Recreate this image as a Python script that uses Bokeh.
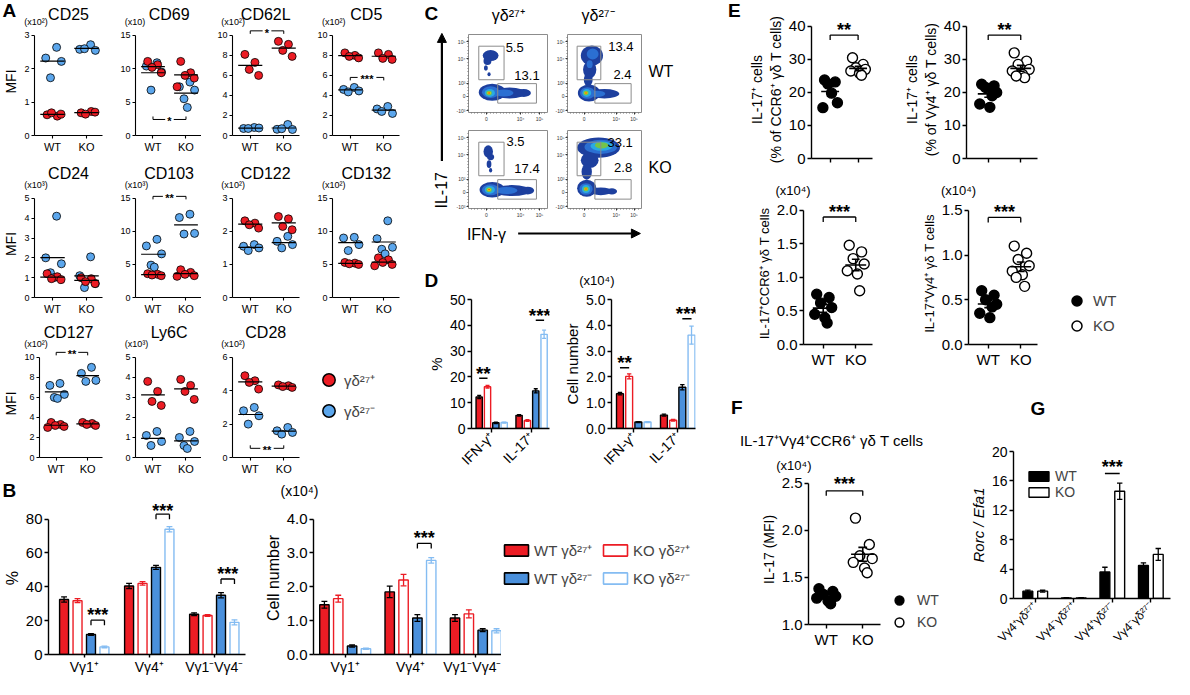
import numpy as np
from bokeh.plotting import figure
from bokeh.layouts import row, column
from bokeh.models import (Range1d, FixedTicker, Legend, LegendItem,
                          ColumnDataSource, Arrow, NormalHead, NumeralTickFormatter)
from bokeh.core.properties import value
from bokeh.embed import file_html
from bokeh.resources import INLINE

FONT = "Liberation Sans"
RED = "#ec1c24"
BLUE = "#4a90dc"
LBLUE = "#84bcf2"
DOTBLUE = "#5ba6ec"

# ===================== DATA =====================
# ---- Panel A (MFI) ----
A_TITLES = ["CD25", "CD69", "CD62L", "CD5", "CD24", "CD103", "CD122", "CD132", "CD127", "Ly6C", "CD28"]
A_MULT = ["(x10²)", "(x10)", "(x10²)", "(x10²)", "(x10³)", "(x10³)", "(x10²)", "(x10²)", "(x10²)", "(x10³)", "(x10²)"]
A_YMAX = [3, 15, 10, 10, 5, 15, 3, 15, 10, 5, 6]
A_YSTEP = [1, 5, 2, 2, 1, 5, 1, 5, 2, 1, 2]
A_WT_POS = [[0.62, 0.58, 0.68, 0.64], [11.1, 10.6, 10.2, 9.4], [8.1, 7.3, 6.6, 6.0],
            [8.25, 8.0, 7.9, 7.75], [1.2, 1.05, 0.95, 0.9], [3.6, 3.5, 3.4, 3.3],
            [2.32, 2.25, 2.2, 2.1], [5.3, 5.2, 5.1, 5.0], [3.5, 3.3, 3.2, 3.1, 3.0],
            [3.8, 3.3, 2.8, 2.6], [4.9, 4.6, 4.5, 4.1]]
A_WT_NEG = [[2.64, 2.32, 2.22, 1.73], [10.9, 10.4, 9.5, 6.8], [0.8, 0.7, 0.75, 0.7],
            [4.8, 4.6, 4.45, 4.35], [4.1, 2.0, 1.7, 1.25, 1.0], [8.8, 7.8, 6.6, 4.9, 4.6],
            [1.6, 1.55, 1.5, 1.42], [9.1, 9.0, 8.0, 7.1], [7.4, 7.2, 6.3, 6.0, 5.9],
            [1.3, 1.1, 0.8, 0.6], [3.0, 2.8, 2.5, 2.0]]
A_KO_POS = [[0.68, 0.72, 0.64, 0.7], [11.1, 9.4, 9.0, 8.6, 7.3], [9.4, 9.1, 8.5, 7.9],
            [8.25, 8.1, 7.7, 7.6], [1.0, 0.95, 0.8, 0.7], [4.2, 3.8, 3.5, 3.3, 3.2],
            [2.45, 2.38, 2.15, 2.05], [6.0, 5.7, 5.3, 5.0, 4.8], [3.5, 3.4, 3.3, 3.2],
            [3.9, 3.6, 3.3, 2.9], [4.35, 4.3, 4.25, 4.2]]
A_KO_NEG = [[2.72, 2.58, 2.55, 2.6], [8.0, 7.3, 6.8, 5.5, 4.2], [1.1, 0.62, 0.6, 0.68],
            [2.9, 2.65, 2.2, 2.4], [2.05, 1.1, 0.7, 0.5], [12.6, 12.1, 9.7, 9.6],
            [1.85, 1.7, 1.6, 1.5], [11.6, 8.9, 7.6, 7.3, 6.6], [9.0, 8.4, 7.7, 7.6],
            [1.3, 1.0, 0.8, 0.6, 0.45], [1.8, 1.6, 1.5, 1.4]]
A_SIG_TEXT = ["", "*", "*", "***", "", "**", "", "", "**", "", "**"]
A_SIG_LEVEL = [0, 2.4, 10.45, 5.8, 0, 15.3, 0, 0, 10.5, 0, 0.55]
A_SIG_UP = [False, True, False, False, False, False, False, False, False, False, True]
A_LEGEND = ["γδ²⁷⁺", "γδ²⁷⁻"]

# ---- Panel B ----
B_GROUPS = ["Vγ1⁺", "Vγ4⁺", "Vγ1⁻Vγ4⁻"]
SERIES = ["WT γδ²⁷⁺", "KO γδ²⁷⁺", "WT γδ²⁷⁻", "KO γδ²⁷⁻"]
B_PCT_WT_POS = [32.5, 40.5, 23.8]; B_PCT_WT_POS_E = [1.5, 1.5, 0.8]
B_PCT_KO_POS = [31.8, 42.0, 23.0]; B_PCT_KO_POS_E = [1.2, 1.0, 0.5]
B_PCT_WT_NEG = [11.8, 51.5, 35.0]; B_PCT_WT_NEG_E = [0.5, 1.2, 1.5]
B_PCT_KO_NEG = [4.5, 74.0, 19.0]; B_PCT_KO_NEG_E = [0.5, 1.6, 1.5]
B_NUM_WT_POS = [1.47, 1.85, 1.08]; B_NUM_WT_POS_E = [0.1, 0.17, 0.1]
B_NUM_KO_POS = [1.65, 2.2, 1.2]; B_NUM_KO_POS_E = [0.1, 0.17, 0.12]
B_NUM_WT_NEG = [0.25, 1.08, 0.72]; B_NUM_WT_NEG_E = [0.03, 0.1, 0.04]
B_NUM_KO_NEG = [0.17, 2.78, 0.7]; B_NUM_KO_NEG_E = [0.02, 0.08, 0.06]
B_PCT_SIG_GROUP = [0, 1, 2]; B_PCT_SIG_LEVEL = [20.3, 82.9, 44.6]; B_PCT_SIG_TEXT_Y = [25.5, 87.3, 50.0]
B_NUM_SIG_GROUP = [1]; B_NUM_SIG_LEVEL = [3.28]; B_NUM_SIG_TEXT_Y = [3.55]

# ---- Panel C (flow) ----
C_COLS = ["γδ²⁷⁺", "γδ²⁷⁻"]
C_ROWS = ["WT", "KO"]
C_UPPER = [["5.5", "13.4"], ["3.5", "33.1"]]
C_LOWER = [["13.1", "2.4"], ["17.4", "2.8"]]
FLOW_XTICKS = [22.5, 66, 90]; FLOW_XLABELS = ["0", "10⁴", "10⁵"]
FLOW_YTICKS = [2.5, 21, 37.5, 69, 91]; FLOW_YLABELS = ["-10³", "0", "10³", "10⁴", "10⁵"]
DENS = ["#1d3f9e", "#2b6fd2", "#2aaae2", "#74c44a", "#f2e400", "#e8141c"]
BLOB_WT_POS = [(28, 73, 20, 14, 0), (24, 66, 10, 10, 0), (22, 57, 5, 7, 0), (26, 49, 4, 5, 0),
               (30, 26, 34, 22, 0), (52, 25, 42, 14, 0), (70, 25, 18, 10, 0), (28, 26, 22, 15, 1),
               (45, 25, 24, 9, 1), (27, 25, 13, 10, 2), (26, 25, 7, 6, 3), (26, 25, 4, 3.5, 4), (26, 25, 2, 2, 5)]
BLOB_WT_NEG = [(33, 73, 30, 26, 0), (30, 55, 18, 22, 0), (28, 42, 12, 16, 0), (34, 75, 16, 14, 1),
               (30, 62, 8, 10, 1), (29, 25, 30, 22, 0), (50, 24, 40, 12, 0), (27, 25, 20, 15, 1),
               (40, 24, 22, 8, 1), (26, 25, 12, 10, 2), (25, 25, 7, 6, 3), (25, 25, 4, 3.5, 4), (25, 25, 2, 2, 5)]
BLOB_KO_POS = [(25, 73, 12, 16, 0), (28, 66, 9, 8, 0), (26, 57, 6, 10, 0), (28, 49, 4, 6, 0),
               (30, 24, 32, 20, 0), (55, 23, 48, 14, 0), (75, 23, 16, 10, 0), (28, 24, 22, 14, 1),
               (48, 23, 28, 9, 1), (27, 24, 13, 10, 2), (26, 24, 7, 6, 3), (26, 24, 4, 3.5, 4), (26, 24, 2, 2, 5)]
BLOB_KO_NEG = [(42, 78, 58, 26, 0), (30, 62, 24, 20, 0), (26, 47, 14, 20, 0), (45, 79, 44, 18, 1),
               (46, 80, 30, 12, 2), (46, 81, 18, 8, 3), (26, 26, 26, 22, 0), (45, 22, 30, 10, 0),
               (60, 22, 14, 8, 0), (25, 25, 18, 15, 1), (25, 25, 11, 10, 2), (25, 25, 7, 6, 3),
               (25, 25, 4, 3.5, 4), (25, 25, 2, 2, 5)]
FLOW_BLOBS = [[BLOB_WT_POS, BLOB_WT_NEG], [BLOB_KO_POS, BLOB_KO_NEG]]
GATE_UP = (13, 45, 42, 85)
GATE_LO = (37, 86, 12, 37)
NUM_UP_XY = [[(47, 83), (55, 84)], [(48, 86), (54, 85)]]
NUM_LO_XY = [[(58, 48), (62, 49)], [(58, 51), (63, 52)]]

# ---- Panel D ----
D_GROUPS = ["IFN-γ⁺", "IL-17⁺"]
D_PCT_WT_POS = [12.2, 5.1]; D_PCT_WT_POS_E = [0.6, 0.3]
D_PCT_KO_POS = [16.2, 3.1]; D_PCT_KO_POS_E = [0.5, 0.3]
D_PCT_WT_NEG = [2.2, 14.6]; D_PCT_WT_NEG_E = [0.3, 0.8]
D_PCT_KO_NEG = [2.3, 36.5]; D_PCT_KO_NEG_E = [0.2, 1.6]
D_NUM_WT_POS = [1.35, 0.52]; D_NUM_WT_POS_E = [0.05, 0.04]
D_NUM_KO_POS = [2.02, 0.32]; D_NUM_KO_POS_E = [0.1, 0.03]
D_NUM_WT_NEG = [0.25, 1.6]; D_NUM_WT_NEG_E = [0.02, 0.1]
D_NUM_KO_NEG = [0.25, 3.62]; D_NUM_KO_NEG_E = [0.02, 0.35]
D_PCT_SIG = [(0, 0, "**", 19.5, 23.0), (1, 2, "***", 42.0, 45.5)]
D_NUM_SIG = [(0, 0, "**", 2.35, 2.7), (1, 2, "***", 4.25, 4.6)]

# ---- Panel E ----
E1_WT = [23.8, 23.2, 22.6, 16.9, 15.4, 19.8]
E1_KO = [30.5, 28.5, 27.5, 27.0, 26.5, 25.8, 25.2]
E2_WT = [22.5, 22.0, 21.5, 20.0, 16.5, 15.5, 19.0]
E2_KO = [32.0, 29.5, 28.5, 27.0, 26.5, 25.5, 24.5, 25.0]
E3_WT = [0.75, 0.7, 0.62, 0.55, 0.45, 0.4, 0.32]
E3_KO = [1.48, 1.38, 1.28, 1.2, 1.1, 1.05, 0.8]
E4_WT = [0.6, 0.55, 0.5, 0.45, 0.35, 0.3, 0.42]
E4_KO = [1.1, 1.02, 0.95, 0.88, 0.82, 0.78, 0.65, 0.75]
# ---- Panel F ----
F_WT = [1.38, 1.35, 1.32, 1.3, 1.28, 1.25, 1.22]
F_KO = [2.13, 1.85, 1.73, 1.7, 1.66, 1.6, 1.55]
# ---- Panel G ----
G_GROUPS = ["Vγ4⁺γδ²⁷⁺", "Vγ4⁻γδ²⁷⁺", "Vγ4⁺γδ²⁷⁻", "Vγ4⁻γδ²⁷⁻"]
G_WT = [1.0, 0.08, 3.6, 4.5]; G_WT_E = [0.15, 0.02, 0.65, 0.35]
G_KO = [1.0, 0.08, 14.6, 6.0]; G_KO_E = [0.12, 0.02, 1.1, 0.8]
G_SIG = [(2, "***", 17.0, 18.5)]
WK = ["WT", "KO"]

# ===================== HELPERS =====================
SX = 1173 / 1190
SY = 678 / 695
def X(v): return int(round(v * SX))
def Y(v): return int(round(v * SY))
FRAMES = {}
LEG_FIX = 8   # px: legends render this much higher than their nominal box

def make_fig(cx, cy, fx, fy, xr, yr):
    (cx0, cx1), (cy0, cy1), (fx0, fx1), (fy0, fy1) = cx, cy, fx, fy
    p = figure(width=X(cx1) - X(cx0), height=Y(cy1) - Y(cy0),
               x_range=Range1d(*xr), y_range=Range1d(*yr),
               output_backend="svg", toolbar_location=None, title_location=None,
               min_border_left=X(fx0) - X(cx0), min_border_right=X(cx1) - X(fx1),
               min_border_top=Y(fy0) - Y(cy0), min_border_bottom=Y(cy1) - Y(fy1))
    p.outline_line_color = None
    p.grid.visible = False
    p.background_fill_color = "white"
    p.border_fill_color = "white"
    FRAMES[p.id] = Y(fy1) - Y(fy0)
    return p

def blank(cx, cy, fl=None, ft=None, fb=None):
    """Axis-less figure; data coordinates are the reference pixel coordinates of its frame."""
    (cx0, cx1), (cy0, cy1) = cx, cy
    fl = cx0 if fl is None else fl
    ft = cy0 if ft is None else ft
    fb = cy1 if fb is None else fb
    p = figure(width=X(cx1) - X(cx0), height=Y(cy1) - Y(cy0),
               x_range=Range1d(fl, cx1), y_range=Range1d(fb, ft),
               output_backend="svg", toolbar_location=None, title_location=None,
               x_axis_location=None, y_axis_location=None,
               min_border_left=X(fl) - X(cx0), min_border_right=0,
               min_border_top=Y(ft) - Y(cy0), min_border_bottom=Y(cy1) - Y(fb))
    p.outline_line_color = None
    p.grid.visible = False
    p.background_fill_color = "white"
    p.border_fill_color = "white"
    return p

def style(p, fs=14, lfs=15, lw=1.4, tick=4):
    for ax in p.axis:
        ax.axis_line_width = lw
        ax.axis_line_color = "black"
        ax.major_tick_line_width = lw
        ax.major_tick_line_color = "black"
        ax.major_tick_out = tick
        ax.major_tick_in = 0
        ax.minor_tick_line_color = None
        ax.major_label_text_font = FONT
        ax.major_label_text_font_size = f"{fs}px"
        ax.major_label_text_color = "black"
        ax.major_label_standoff = 2
        ax.axis_label_text_font = FONT
        ax.axis_label_text_font_size = f"{lfs}px"
        ax.axis_label_text_font_style = "normal"
        ax.axis_label_text_color = "black"
        ax.axis_label_standoff = 2

def txt(p, xs, ys, texts, size=13, align="center", baseline="middle", fstyle="normal", yoff=0, angle=0.0):
    p.text(x=xs, y=ys, text=texts, text_font=value(FONT), text_font_size=value(f"{size}px"),
           text_align=value(align), text_baseline=value(baseline),
           text_font_style=value(fstyle), text_color="black", y_offset=yoff, angle=angle)

def make_legend(items, font, gw, gh, lh, spacing, standoff, location):
    return Legend(items=items, location=location, margin=0, padding=0,
                  glyph_width=gw, glyph_height=gh, label_height=lh, label_width=10,
                  spacing=spacing, label_standoff=standoff, border_line_color=None,
                  background_fill_alpha=0, label_text_font=FONT,
                  label_text_font_size=f"{font}px")

def legend_loc(n, left, top, frame_left, frame_bottom, gh, lh, spacing):
    h_item = max(gh, lh)
    bottom_px = Y(top) + n * h_item + (n - 1) * spacing + LEG_FIX
    return (X(left) - X(frame_left), Y(frame_bottom) - bottom_px)

def legend_blank(cx, cy, left, top, specs, font, gw, gh, lh, spacing, standoff):
    """Legend in its own axis-less cell (wrapped so that it is not frame-aligned with neighbours)."""
    p = blank(cx, cy)
    items = []
    for label, kind, fill, line in specs:
        if kind == "dot":
            r = p.scatter(x=[np.nan], y=[np.nan], size=10, fill_color=fill, line_color=line, line_width=1.5)
        else:
            r = p.vbar(x=[np.nan], top=[np.nan], bottom=0, width=1, fill_color=fill,
                       line_color=line, line_width=1.6)
        items.append(LegendItem(label=label, renderers=[r]))
    loc = legend_loc(len(items), left, top, cx[0], cy[1], gh, lh, spacing)
    p.add_layout(make_legend(items, font, gw, gh, lh, spacing, standoff, loc))
    return column(p)

def mean_sem(v):
    a = np.array(v, dtype=float)
    return float(a.mean()), float(a.std(ddof=1) / np.sqrt(len(a)))

SER_FILL = [RED, "white", BLUE, "white"]
SER_LINE = ["black", RED, "black", LBLUE]
SER_ERR = ["black", RED, "black", LBLUE]

def bars4(p, vals4, errs4, offset, width, cap):
    rends = []
    for s in range(4):
        vals, errs = vals4[s], errs4[s]
        xs = [g + (s - 1.5) * offset for g in range(len(vals))]
        r = p.vbar(x=xs, top=vals, bottom=0, width=width, fill_color=SER_FILL[s],
                   line_color=SER_LINE[s], line_width=1.4)
        lo = [v - e for v, e in zip(vals, errs)]
        hi = [v + e for v, e in zip(vals, errs)]
        p.segment(x0=xs, y0=lo, x1=xs, y1=hi, line_color=SER_ERR[s], line_width=1.3)
        p.segment(x0=[x - cap for x in xs] * 2, y0=lo + hi, x1=[x + cap for x in xs] * 2,
                  y1=lo + hi, line_color=SER_ERR[s], line_width=1.3)
        rends.append(r)
    return rends

def bracket(p, x0, x1, level, tick_px=4, down=True):
    fh = FRAMES[p.id]
    span = p.y_range.end - p.y_range.start
    t = tick_px * span / fh * (-1 if down else 1)
    p.segment(x0=[x0, x0, x1], y0=[level, level, level], x1=[x1, x0, x1],
              y1=[level, level + t, level + t], line_color="black", line_width=1.3)

# ===================== PANEL A =====================
A_CELL_X = [0, 104, 204, 304, 430]
A_FRAME_X = [35, 137, 235, 337]
A_FRAME_W = 68
A_CELL_Y = [0, 162, 326, 492]
A_TOP = [36, 203, 366]
A_ZERO = [138, 304, 468]
A_FT = [28, 195, 358]
A_TITLE_Y = [14, 177, 340]
JIT_POS = [-0.16, 0.14, -0.03, 0.25, -0.27, 0.07, 0.2]
JIT_NEG = [0.12, -0.2, 0.26, -0.06, 0.04, -0.28, 0.18]

def a_fig(k):
    r, c = divmod(k, 4)
    ymax = A_YMAX[k]
    top, zero, ft = A_TOP[r], A_ZERO[r], A_FT[r]
    yend = ymax * (zero - ft) / (zero - top)
    fx0 = A_FRAME_X[c]
    p = make_fig((A_CELL_X[c], A_CELL_X[c + 1]), (ft, A_CELL_Y[r + 1]),
                 (fx0, fx0 + A_FRAME_W), (ft, zero), (0.47, 2.47), (0, yend))
    style(p, 9, 14, lw=1.1, tick=3)
    p.yaxis.ticker = FixedTicker(ticks=list(range(0, ymax + 1, A_YSTEP[k])))
    p.yaxis.bounds = (0, ymax)
    p.xaxis.ticker = FixedTicker(ticks=[1, 2])
    p.xaxis.major_label_overrides = {1: WK[0], 2: WK[1]}
    p.xaxis.major_label_text_font_size = "11px"
    if c == 0:
        p.yaxis.axis_label = "MFI"
    groups = [(1, A_WT_NEG[k], A_WT_POS[k]), (2, A_KO_NEG[k], A_KO_POS[k])]
    for base, neg, pos in groups:
        xs = [base + JIT_NEG[i % 7] for i in range(len(neg))]
        p.scatter(x=xs, y=neg, size=8, fill_color=DOTBLUE, line_color="black", line_width=0.8)
        xs = [base + JIT_POS[i % 7] for i in range(len(pos))]
        p.scatter(x=xs, y=pos, size=8, fill_color=RED, line_color="black", line_width=0.8)
    means = []
    for base, neg, pos in groups:
        means += [(base, float(np.mean(neg))), (base, float(np.mean(pos)))]
    p.segment(x0=[b - 0.36 for b, m in means], y0=[m for b, m in means],
              x1=[b + 0.36 for b, m in means], y1=[m for b, m in means],
              line_color="black", line_width=1.2)
    if A_SIG_TEXT[k]:
        lev = A_SIG_LEVEL[k]
        fh = FRAMES[p.id]
        t = 3 * yend / fh * (1 if A_SIG_UP[k] else -1)
        g = {1: 0.13, 2: 0.2, 3: 0.28}[len(A_SIG_TEXT[k])]
        p.segment(x0=[1, 1.5 + g, 1, 2], y0=[lev] * 4, x1=[1.5 - g, 2, 1, 2],
                  y1=[lev, lev, lev + t, lev + t], line_color="black", line_width=1.0)
        txt(p, [1.5], [lev], [A_SIG_TEXT[k]], size=11, fstyle="bold", yoff=2)
    return p

def a_strip(r):
    p = blank((0, 430), (A_CELL_Y[r], A_FT[r]))
    ks = [k for k in range(11) if k // 4 == r]
    txt(p, [A_FRAME_X[k % 4] + A_FRAME_W / 2 for k in ks], [A_TITLE_Y[r]] * len(ks),
        [A_TITLES[k] for k in ks], size=16)
    txt(p, [A_FRAME_X[k % 4] - 11 for k in ks], [A_TOP[r] - 14] * len(ks),
        [A_MULT[k] for k in ks], size=9, align="left")
    if r == 0:
        txt(p, [2], [10], ["A"], size=19, align="left", fstyle="bold")
    return p

a_figs = [a_fig(k) for k in range(11)]
a_leg = legend_blank((304, 430), (A_FT[2], 492), 318, 364.5,
                     [(A_LEGEND[0], "dot", RED, "black"), (A_LEGEND[1], "dot", DOTBLUE, "black")],
                     font=15, gw=31, gh=31, lh=31, spacing=0, standoff=0)
A_col = column(a_strip(0), row(*a_figs[0:4]), a_strip(1), row(*a_figs[4:8]),
               a_strip(2), row(*a_figs[8:11], a_leg))

# ===================== PANEL C =====================
FLOW_CX = [(460, 560), (560, 655)]
FLOW_FX = [(475, 555), (570, 650)]
FLOW_CY = [(30, 130), (130, 227)]
FLOW_FY = [(35, 115), (133, 213)]

def flow_fig(i, j):
    p = make_fig(FLOW_CX[j], FLOW_CY[i], FLOW_FX[j], FLOW_FY[i], (0, 100), (0, 100))
    p.outline_line_color = "#8c8c8c"
    p.outline_line_width = 1
    for ax in p.axis:
        ax.axis_line_color = None
        ax.major_tick_out = 2
        ax.major_tick_in = 0
        ax.major_tick_line_color = "#333333"
        ax.major_tick_line_width = 1
        ax.minor_tick_out = 1
        ax.minor_tick_in = 0
        ax.minor_tick_line_color = "#777777"
        ax.major_label_text_font = FONT
        ax.major_label_text_font_size = "5px"
        ax.major_label_text_color = "#333333"
        ax.major_label_standoff = 1
    p.xaxis.ticker = FixedTicker(ticks=FLOW_XTICKS, minor_ticks=list(np.arange(4, 100, 4.0)))
    p.xaxis.major_label_overrides = dict(zip(FLOW_XTICKS, FLOW_XLABELS))
    p.yaxis.ticker = FixedTicker(ticks=FLOW_YTICKS, minor_ticks=list(np.arange(4, 100, 4.0)))
    p.yaxis.major_label_overrides = dict(zip(FLOW_YTICKS, FLOW_YLABELS))
    blobs = FLOW_BLOBS[i][j]
    src = ColumnDataSource(dict(x=[b[0] for b in blobs], y=[b[1] for b in blobs],
                                w=[b[2] for b in blobs], h=[b[3] for b in blobs],
                                c=[DENS[b[4]] for b in blobs]))
    p.ellipse(x="x", y="y", width="w", height="h", fill_color="c", line_color=None, source=src)
    p.quad(left=[GATE_UP[0], GATE_LO[0]], right=[GATE_UP[1], GATE_LO[1]],
           bottom=[GATE_UP[2], GATE_LO[2]], top=[GATE_UP[3], GATE_LO[3]],
           fill_color=None, line_color="#8c8c8c", line_width=1)
    (ux, uy), (lx, ly) = NUM_UP_XY[i][j], NUM_LO_XY[i][j]
    txt(p, [ux, lx], [uy, ly], [C_UPPER[i][j], C_LOWER[i][j]], size=13, align="left")
    return p

c_top = blank((430, 712), (0, 30))
txt(c_top, [430], [13], ["C"], size=19, align="left", fstyle="bold")
txt(c_top, [515, 606], [16, 16], C_COLS, size=16, align="center")
c_left = blank((430, 460), (30, 227))
c_left.add_layout(Arrow(end=NormalHead(size=9, fill_color="black", line_color="black"),
                        x_start=448, y_start=165, x_end=448, y_end=34, line_width=2.2))
txt(c_left, [448], [195], ["IL-17"], size=16, align="center", angle=np.pi / 2)
wt_lab = blank((655, 712), FLOW_CY[0], ft=FLOW_FY[0][0], fb=FLOW_FY[0][1])
txt(wt_lab, [657], [73], [C_ROWS[0]], size=16, align="left")
ko_lab = blank((655, 712), FLOW_CY[1], ft=FLOW_FY[1][0], fb=FLOW_FY[1][1])
txt(ko_lab, [657], [171], [C_ROWS[1]], size=16, align="left")
c_bot = blank((430, 712), (227, 258))
txt(c_bot, [473], [240], ["IFN-γ"], size=16, align="left")
c_bot.add_layout(Arrow(end=NormalHead(size=9, fill_color="black", line_color="black"),
                       x_start=525, y_start=239, x_end=649, y_end=239, line_width=2.2))
flows = column(row(flow_fig(0, 0), flow_fig(0, 1), wt_lab), row(flow_fig(1, 0), flow_fig(1, 1), ko_lab))
C_mid = row(c_left, flows)

# ===================== PANEL D =====================
D_OFF, D_W, D_CAP = 0.209, 0.157, 0.05
d_strip = blank((430, 712), (258, 298))
txt(d_strip, [430], [287], ["D"], size=19, align="left", fstyle="bold")
txt(d_strip, [587], [287], ["(x10⁴)"], size=13, align="left")

d1 = make_fig((430, 565), (298, 492), (470, 557), (306, 439), (-0.506, 1.449), (0, 50))
style(d1, 14, 15)
d1.yaxis.ticker = FixedTicker(ticks=[0, 10, 20, 30, 40, 50])
d1.yaxis.axis_label = "%"
d1.xaxis.ticker = FixedTicker(ticks=[0, 1])
d1.xaxis.major_label_overrides = {0: D_GROUPS[0], 1: D_GROUPS[1]}
d1.xaxis.major_label_orientation = np.pi / 4
bars4(d1, [D_PCT_WT_POS, D_PCT_KO_POS, D_PCT_WT_NEG, D_PCT_KO_NEG],
      [D_PCT_WT_POS_E, D_PCT_KO_POS_E, D_PCT_WT_NEG_E, D_PCT_KO_NEG_E], D_OFF, D_W, D_CAP)
for gg, s, t, lev, ty in D_PCT_SIG:
    xa, xb = gg + (s - 1.5) * D_OFF, gg + (s - 0.5) * D_OFF
    d1.segment(x0=[xa], y0=[lev], x1=[xb], y1=[lev], line_color="black", line_width=1.5)
    txt(d1, [(xa + xb) / 2], [ty], [t], size=19, fstyle="bold", yoff=4)

d2 = make_fig((565, 712), (298, 492), (620, 705), (306, 439), (-0.506, 1.404), (0, 5))
style(d2, 14, 15)
d2.yaxis.ticker = FixedTicker(ticks=[0, 1, 2, 3, 4, 5])
d2.yaxis.formatter = NumeralTickFormatter(format="0.0")
d2.yaxis.axis_label = "Cell number"
d2.xaxis.ticker = FixedTicker(ticks=[0, 1])
d2.xaxis.major_label_overrides = {0: D_GROUPS[0], 1: D_GROUPS[1]}
d2.xaxis.major_label_orientation = np.pi / 4
bars4(d2, [D_NUM_WT_POS, D_NUM_KO_POS, D_NUM_WT_NEG, D_NUM_KO_NEG],
      [D_NUM_WT_POS_E, D_NUM_KO_POS_E, D_NUM_WT_NEG_E, D_NUM_KO_NEG_E], D_OFF, D_W, D_CAP)
for gg, s, t, lev, ty in D_NUM_SIG:
    xa, xb = gg + (s - 1.5) * D_OFF, gg + (s - 0.5) * D_OFF
    d2.segment(x0=[xa], y0=[lev], x1=[xb], y1=[lev], line_color="black", line_width=1.5)
    txt(d2, [(xa + xb) / 2], [ty], [t], size=19, fstyle="bold", yoff=4)

CD_col = column(c_top, C_mid, c_bot, d_strip, row(d1, d2))

# ===================== PANEL B =====================
b_strip = blank((0, 712), (492, 514))
txt(b_strip, [2], [502], ["B"], size=19, align="left", fstyle="bold")
txt(b_strip, [284], [503], ["(x10⁴)"], size=14, align="left")

def b_axes(p):
    style(p, 15, 16)
    p.xaxis.major_label_text_font_size = "14px"
    p.xaxis.major_label_standoff = 1
    p.xaxis.major_tick_out = 3
    p.xaxis.ticker = FixedTicker(ticks=[0, 1, 2])
    p.xaxis.major_label_overrides = {0: B_GROUPS[0], 1: B_GROUPS[1], 2: B_GROUPS[2]}

B1_OFF, B1_W, B_CAP = 0.207, 0.138, 0.045
b1 = make_fig((0, 265), (514, 695), (40, 249), (514, 670), (-0.55, 2.48), (0, 90.4))
b_axes(b1)
b1.yaxis.ticker = FixedTicker(ticks=[0, 20, 40, 60, 80])
b1.yaxis.bounds = (0, 80)
b1.yaxis.axis_label = "%"
bars4(b1, [B_PCT_WT_POS, B_PCT_KO_POS, B_PCT_WT_NEG, B_PCT_KO_NEG],
      [B_PCT_WT_POS_E, B_PCT_KO_POS_E, B_PCT_WT_NEG_E, B_PCT_KO_NEG_E], B1_OFF, B1_W, B_CAP)
for gg, lev, ty in zip(B_PCT_SIG_GROUP, B_PCT_SIG_LEVEL, B_PCT_SIG_TEXT_Y):
    xa, xb = gg + 0.5 * B1_OFF, gg + 1.5 * B1_OFF
    bracket(b1, xa, xb, lev, 5, True)
    txt(b1, [(xa + xb) / 2], [ty], ["***"], size=18, fstyle="bold", yoff=4)

B2_OFF, B2_W = 0.212, 0.144
b2 = make_fig((265, 508), (514, 695), (318, 508), (514, 670), (-0.485, 2.394), (0, 4.52))
b_axes(b2)
b2.yaxis.ticker = FixedTicker(ticks=[0, 1, 2, 3, 4])
b2.yaxis.formatter = NumeralTickFormatter(format="0.0")
b2.yaxis.bounds = (0, 4)
b2.yaxis.axis_label = "Cell number"
bars4(b2, [B_NUM_WT_POS, B_NUM_KO_POS, B_NUM_WT_NEG, B_NUM_KO_NEG],
      [B_NUM_WT_POS_E, B_NUM_KO_POS_E, B_NUM_WT_NEG_E, B_NUM_KO_NEG_E], B2_OFF, B2_W, B_CAP)
for gg, lev, ty in zip(B_NUM_SIG_GROUP, B_NUM_SIG_LEVEL, B_NUM_SIG_TEXT_Y):
    xa, xb = gg + 0.5 * B2_OFF, gg + 1.5 * B2_OFF
    bracket(b2, xa, xb, lev, 5, True)
    txt(b2, [(xa + xb) / 2], [ty], ["***"], size=18, fstyle="bold", yoff=4)

b_leg1 = legend_blank((508, 606), (514, 695), 508, 545,
                      [(SERIES[0], "bar", SER_FILL[0], SER_LINE[0]), (SERIES[2], "bar", SER_FILL[2], SER_LINE[2])],
                      font=15, gw=30, gh=14, lh=20, spacing=8, standoff=3)
b_leg2 = legend_blank((606, 712), (514, 695), 609, 545,
                      [(SERIES[1], "bar", SER_FILL[1], SER_LINE[1]), (SERIES[3], "bar", SER_FILL[3], SER_LINE[3])],
                      font=15, gw=30, gh=14, lh=20, spacing=8, standoff=3)

LEFT = column(row(A_col, CD_col), b_strip, row(b1, b2, b_leg1, b_leg2))

# ===================== PANEL E / F =====================
EJ = [-0.2, 0.18, -0.08, 0.26, -0.26, 0.05, 0.12, -0.14]

def dots(p, wt, ko):
    for base, vals, filled in [(1, wt, True), (2, ko, False)]:
        xs = [base + EJ[i % len(EJ)] for i in range(len(vals))]
        p.scatter(x=xs, y=vals, size=10, fill_color="black" if filled else "white",
                  line_color="black", line_width=1.4)
        m, s = mean_sem(vals)
        p.segment(x0=[base - 0.32, base, base - 0.12, base - 0.12],
                  y0=[m, m - s, m - s, m + s],
                  x1=[base + 0.32, base, base + 0.12, base + 0.12],
                  y1=[m, m + s, m - s, m + s], line_color="black", line_width=1.6)

def e_style(p, ymax, ticks, labels_on, fmt=None, lfs=14):
    style(p, 15, lfs)
    p.yaxis.ticker = FixedTicker(ticks=ticks)
    p.yaxis.bounds = (ticks[0], ymax)
    if fmt:
        p.yaxis.formatter = NumeralTickFormatter(format=fmt)
    p.xaxis.ticker = FixedTicker(ticks=[1, 2])
    if labels_on:
        p.xaxis.major_label_overrides = {1: WK[0], 2: WK[1]}
    else:
        p.xaxis.major_label_overrides = {1: "", 2: ""}
        p.xaxis.major_label_text_font_size = "1px"

e_letter = blank((712, 756), (0, 182))
txt(e_letter, [738], [10], ["E"], size=19, align="left", fstyle="bold")

e1 = make_fig((756, 900), (0, 182), (813, 885), (21, 162), (0.333, 2.515), (0, 41.8))
e_style(e1, 40, [0, 10, 20, 30, 40], False, lfs=14)
e1.yaxis.axis_label = "IL-17⁺ cells\n(% of CCR6⁺ γδ T cells)"
dots(e1, E1_WT, E1_KO)
bracket(e1, 1, 2, 37.4, 5, True)
txt(e1, [1.5], [40.0], ["**"], size=18, fstyle="bold", yoff=4)

e2 = make_fig((900, 1190), (0, 182), (980, 1052), (21, 162), (0.333, 2.515), (0, 41.8))
e_style(e2, 40, [0, 10, 20, 30, 40], False, lfs=14)
e2.yaxis.axis_label = "IL-17⁺ cells\n(% of Vγ4⁺ γδ T cells)"
dots(e2, E2_WT, E2_KO)
bracket(e2, 1, 2, 37.4, 5, True)
txt(e2, [1.5], [40.0], ["**"], size=18, fstyle="bold", yoff=4)

e_strip2 = blank((712, 1190), (182, 205))
txt(e_strip2, [786, 954], [195, 195], ["(x10⁴)", "(x10⁴)"], size=13, align="left")

e3 = make_fig((712, 900), (205, 392), (815, 885), (207, 353), (0.394, 2.515), (0, 2.116))
e_style(e3, 2, [0, 0.5, 1.0, 1.5, 2.0], True, "0.0", lfs=13)
e3.yaxis.axis_label = "IL-17⁺CCR6⁺ γδ T cells"
dots(e3, E3_WT, E3_KO)
bracket(e3, 1, 2, 1.9, 5, True)
txt(e3, [1.5], [2.03], ["***"], size=18, fstyle="bold", yoff=4)

e4 = make_fig((900, 1060), (205, 392), (982, 1052), (207, 353), (0.394, 2.515), (0, 1.587))
e_style(e4, 1.5, [0, 0.5, 1.0, 1.5], True, "0.0", lfs=13)
e4.yaxis.axis_label = "IL-17⁺Vγ4⁺ γδ T cells"
dots(e4, E4_WT, E4_KO)
bracket(e4, 1, 2, 1.42, 5, True)
txt(e4, [1.5], [1.52], ["***"], size=18, fstyle="bold", yoff=4)

e_leg = legend_blank((1060, 1190), (205, 392), 1079.5, 287.5,
                     [(WK[0], "dot", "black", "black"), (WK[1], "dot", "white", "black")],
                     font=15, gw=25, gh=25, lh=25, spacing=0, standoff=4)

f_strip = blank((712, 960), (392, 486))
txt(f_strip, [741], [418], ["F"], size=19, align="left", fstyle="bold")
txt(f_strip, [750], [451], ["IL-17⁺Vγ4⁺CCR6⁺ γδ T cells"], size=15, align="left")
txt(f_strip, [787], [477], ["(x10⁴)"], size=13, align="left")

f = make_fig((712, 900), (486, 695), (820, 893), (486, 640), (0.514, 2.486), (1.0, 2.593))
e_style(f, 2.5, [1.0, 1.5, 2.0, 2.5], True, "0.0")
f.yaxis.axis_label = "IL-17 (MFI)"
dots(f, F_WT, F_KO)
bracket(f, 1, 2, 2.42, 5, True)
txt(f, [1.5], [2.535], ["***"], size=18, fstyle="bold", yoff=4)
f_leg = legend_blank((900, 960), (486, 695), 900.5, 596,
                     [(WK[0], "dot", "black", "black"), (WK[1], "dot", "white", "black")],
                     font=14, gw=22, gh=22, lh=22, spacing=0, standoff=7)
F_col = column(f_strip, row(f, f_leg))

# ===================== PANEL G =====================
G_OFF, G_W, G_CAP = 0.192, 0.256, 0.07
g_strip = blank((960, 1190), (392, 440))
txt(g_strip, [985], [419], ["G"], size=19, align="left", fstyle="bold")
g = make_fig((960, 1190), (440, 695), (1028, 1187), (462, 613), (-0.564, 3.51), (0, 20))
style(g, 14, 15)
g.yaxis.ticker = FixedTicker(ticks=[0, 4, 8, 12, 16, 20])
g.yaxis.axis_label = "Rorc / Efa1"
g.yaxis.axis_label_text_font_style = "italic"
g.xaxis.ticker = FixedTicker(ticks=[0, 1, 2, 3])
g.xaxis.major_label_overrides = {i: G_GROUPS[i] for i in range(4)}
g.xaxis.major_label_orientation = np.pi / 4
g.xaxis.major_label_text_font_size = "12px"
rg = []
for s, (vals, errs, fill) in enumerate([(G_WT, G_WT_E, "black"), (G_KO, G_KO_E, "white")]):
    xs = [i + (-G_OFF if s == 0 else G_OFF) for i in range(4)]
    r = g.vbar(x=xs, top=vals, bottom=0, width=G_W, fill_color=fill, line_color="black", line_width=1.4)
    lo = [v - e for v, e in zip(vals, errs)]
    hi = [v + e for v, e in zip(vals, errs)]
    g.segment(x0=xs, y0=lo, x1=xs, y1=hi, line_color="black", line_width=1.3)
    g.segment(x0=[x - G_CAP for x in xs] * 2, y0=lo + hi, x1=[x + G_CAP for x in xs] * 2,
              y1=lo + hi, line_color="black", line_width=1.3)
    rg.append(r)
for gi, t, lev, ty in G_SIG:
    g.segment(x0=[gi - G_OFF], y0=[lev], x1=[gi + G_OFF], y1=[lev], line_color="black", line_width=1.5)
    txt(g, [gi], [ty], [t], size=18, fstyle="bold", yoff=4)
g.add_layout(make_legend([LegendItem(label=WK[0], renderers=[rg[0]]),
                          LegendItem(label=WK[1], renderers=[rg[1]])],
                         font=14, gw=25, gh=12, lh=15, spacing=0, standoff=4,
                         location=legend_loc(2, 1041, 473.5, 1028, 613, 12, 15, 0)))
G_col = column(g_strip, g)

RIGHT = column(row(column(e_letter), e1, e2), e_strip2, row(e3, e4, e_leg), row(F_col, G_col))
root = row(LEFT, RIGHT)

open("out.html", "w").write(file_html(root, INLINE, title="figure"))
